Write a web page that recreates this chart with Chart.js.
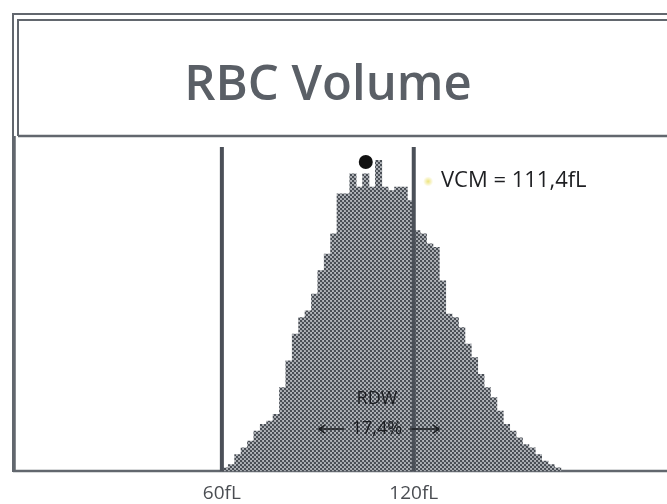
<!DOCTYPE html>
<html>
<head>
<meta charset="utf-8">
<title>RBC Volume</title>
<script src="https://cdn.jsdelivr.net/npm/chart.js@4.4.1/dist/chart.umd.min.js"></script>
<style>
  html, body { margin: 0; padding: 0; background: #fff; overflow: hidden; }
  canvas { display: block; }
</style>
</head>
<body>
<canvas id="rbcChart" width="667" height="516"></canvas>
<script>
// histogram bins (fL, bin centre) and relative cell counts
const binCentres = [61, 63, 65, 67, 69, 71, 73, 75, 77, 79, 81, 83, 85, 87, 89, 91, 93, 95,
    97, 99, 101, 103, 105, 107, 109, 111, 113, 115, 117, 119, 121, 123, 125, 127, 129, 131,
    133, 135, 137, 139, 141, 143, 145, 147, 149, 151, 153, 155, 157, 159, 161, 163, 165];
const cellCounts = [1, 2, 5, 7, 9, 12, 14, 15, 17, 25, 33, 41, 46, 48, 53, 60, 65, 71,
    83, 83, 89, 85, 89, 85, 93, 85, 84, 85, 85, 81, 72, 71, 68, 67, 57, 47,
    46, 43, 38, 34, 29, 25, 22, 18, 14, 12, 10, 8, 7, 5, 3, 2, 1];
// mode marker (black dot) and the two reference lines
const peakMarker = [{ x: 105, y: 92.5 }];
const refLines = [60, 120];
const xTickValues = [60, 120];

const titleText = 'RBC Volume';
const vcmText = 'VCM = 111,4fL';
const rdwLabel = 'RDW';
const rdwValue = '17,4%';

Chart.defaults.font.family = "'Open Sans', sans-serif";

// halftone look of the scanned histogram
function makeDotPattern() {
    const c = document.createElement('canvas');
    c.width = 4; c.height = 4;
    const g = c.getContext('2d');
    g.fillStyle = '#b3b6bb';
    g.fillRect(0, 0, 4, 4);
    g.fillStyle = '#464b52';
    g.beginPath(); g.arc(1, 1, 1.2, 0, Math.PI * 2); g.fill();
    g.beginPath(); g.arc(3, 3, 1.2, 0, Math.PI * 2); g.fill();
    const ctx = document.getElementById('rbcChart').getContext('2d');
    return ctx.createPattern(c, 'repeat');
}

function arrow(ctx, x0, x1, y) {
    const dir = Math.sign(x1 - x0);
    ctx.beginPath();
    ctx.moveTo(x0, y); ctx.lineTo(x1, y);
    ctx.moveTo(x1 - dir * 6, y - 4); ctx.lineTo(x1, y); ctx.lineTo(x1 - dir * 6, y + 4);
    ctx.stroke();
}

const framePlugin = {
    id: 'framePlugin',
    beforeDraw(chart) {
        const { ctx, width } = chart;
        ctx.save();
        ctx.fillStyle = '#ffffff';
        ctx.fillRect(0, 0, width, chart.height);
        ctx.strokeStyle = '#62676e';
        ctx.lineWidth = 2;
        ctx.beginPath();
        // outer double frame
        ctx.moveTo(width, 14); ctx.lineTo(13, 14); ctx.lineTo(13, 472);
        ctx.moveTo(width, 20); ctx.lineTo(18, 20); ctx.lineTo(18, 136);
        ctx.stroke();
        // title box bottom + plot box
        ctx.lineWidth = 2.5;
        ctx.beginPath();
        ctx.moveTo(18, 136); ctx.lineTo(width, 136);
        ctx.moveTo(14.5, 136); ctx.lineTo(14.5, 472);
        ctx.moveTo(13, 471); ctx.lineTo(width, 471);
        ctx.stroke();
        // title
        ctx.fillStyle = '#5a5f66';
        ctx.font = "600 49px 'Open Sans', sans-serif";
        ctx.textAlign = 'center';
        ctx.textBaseline = 'alphabetic';
        ctx.fillText(titleText, 328, 100);
        ctx.restore();
    },
    afterDatasetsDraw(chart) {
        const { ctx } = chart;
        const xs = chart.scales.x, ys = chart.scales.y;
        ctx.save();
        ctx.strokeStyle = '#4b5058';
        ctx.lineWidth = 4;
        refLines.forEach(v => {
            const px = xs.getPixelForValue(v);
            ctx.beginPath();
            ctx.moveTo(px, ys.getPixelForValue(97));
            ctx.lineTo(px, ys.getPixelForValue(0));
            ctx.stroke();
        });
        // faint yellow spot before the VCM label
        const sx = xs.getPixelForValue(124.5), sy = ys.getPixelForValue(86.7);
        const grad = ctx.createRadialGradient(sx, sy, 0, sx, sy, 5);
        grad.addColorStop(0, 'rgba(235,225,110,0.9)');
        grad.addColorStop(1, 'rgba(235,225,110,0)');
        ctx.fillStyle = grad;
        ctx.fillRect(sx - 6, sy - 6, 12, 12);

        ctx.fillStyle = '#1e1f22';
        ctx.font = "22px 'Open Sans', sans-serif";
        ctx.textAlign = 'left';
        ctx.textBaseline = 'middle';
        ctx.fillText(vcmText, xs.getPixelForValue(128.5), ys.getPixelForValue(87));

        // RDW label and width arrows
        const cx = xs.getPixelForValue(108.5);
        const ry = ys.getPixelForValue(21.6), vy = ys.getPixelForValue(12.6);
        ctx.fillStyle = '#1c1e22';
        ctx.font = "500 18px 'Open Sans', sans-serif";
        ctx.textAlign = 'center';
        ctx.fillText(rdwLabel, cx, ry);
        ctx.fillText(rdwValue, cx, vy);
        ctx.strokeStyle = '#1c1e22';
        ctx.lineWidth = 1.5;
        arrow(ctx, cx - 33, cx - 58, vy);
        arrow(ctx, cx + 33, cx + 62, vy);
        ctx.restore();
    }
};

new Chart(document.getElementById('rbcChart'), {
    data: {
        datasets: [{
            type: 'bar',
            label: 'RBC',
            data: binCentres.map((x, i) => ({ x: x, y: cellCounts[i] })),
            backgroundColor: makeDotPattern(),
            borderWidth: 0,
            barPercentage: 1,
            categoryPercentage: 1,
            order: 2
        }, {
            type: 'scatter',
            label: 'Peak',
            data: peakMarker,
            pointRadius: 7,
            pointBackgroundColor: '#111111',
            pointBorderWidth: 0,
            order: 1
        }]
    },
    plugins: [framePlugin],
    options: {
        responsive: false,
        animation: false,
        layout: { padding: { top: 137, left: 14, right: 0, bottom: 0 } },
        plugins: {
            legend: { display: false },
            tooltip: { enabled: false }
        },
        scales: {
            x: {
                type: 'linear',
                min: -5,
                max: 197,
                offset: false,
                grid: { display: false, drawTicks: false },
                border: { display: false },
                afterBuildTicks: (scale) => {
                    scale.ticks = xTickValues.map(v => ({ value: v }));
                },
                ticks: {
                    padding: 11,
                    color: '#4a4d52',
                    font: { size: 19 },
                    maxRotation: 0,
                    autoSkip: false,
                    callback: (v) => v + 'fL'
                }
            },
            y: {
                display: false,
                min: 0,
                max: 100
            }
        }
    }
});
</script>
</body>
</html>
